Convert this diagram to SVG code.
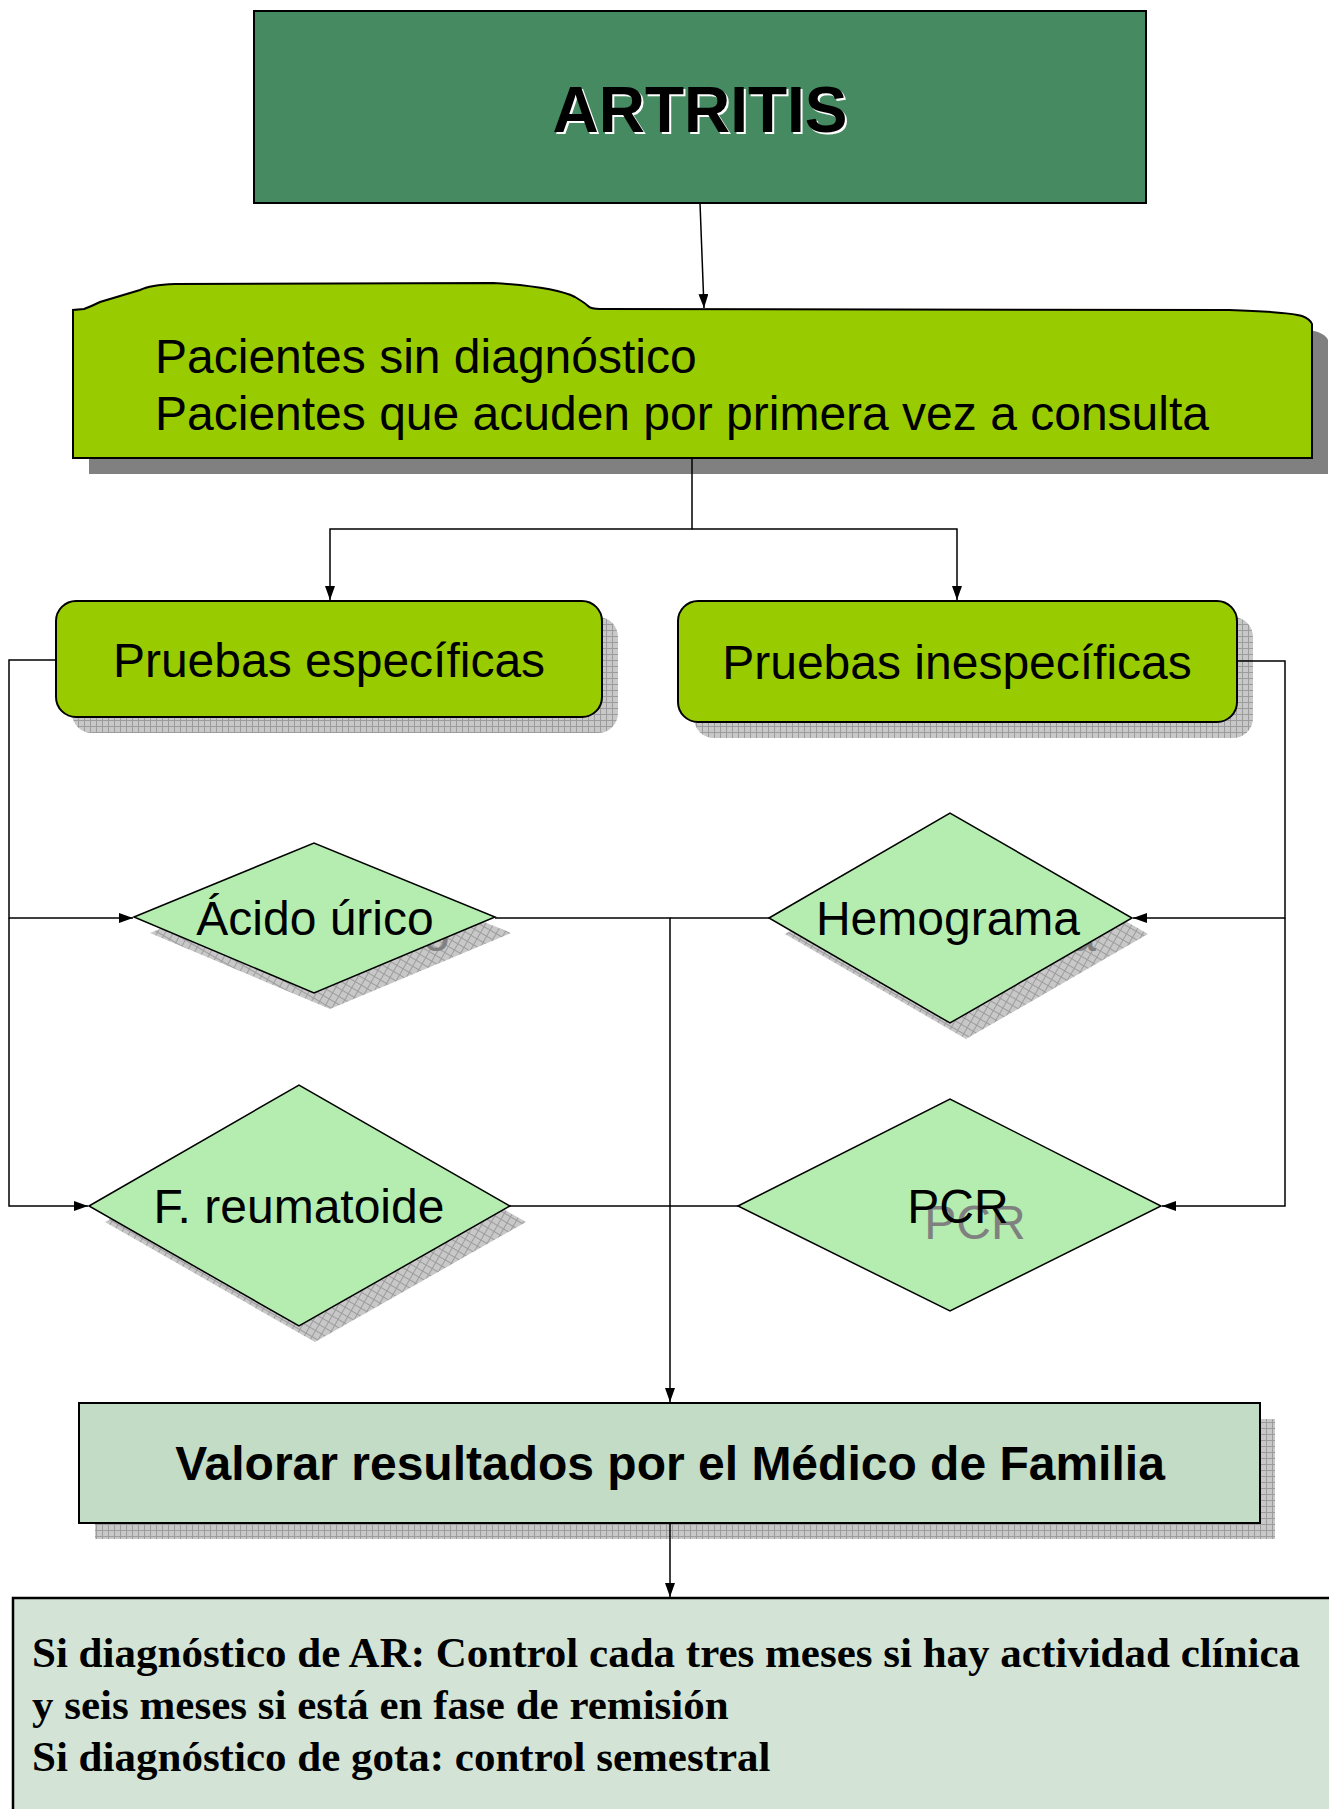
<svg xmlns="http://www.w3.org/2000/svg" width="1329" height="1809" viewBox="0 0 1329 1809">
<defs>
<style>
.sans{font-family:"Liberation Sans",Arial,sans-serif;font-size:48px;fill:#000}
.bold{font-weight:bold}
.serif{font-family:"Liberation Serif","Times New Roman",serif;font-size:43px;font-weight:bold;fill:#000}
.edge{fill:none;stroke:#000;stroke-width:1.5}
.box{stroke:#000;stroke-width:2}
.lime{fill:#99CC00}
.dia{fill:#B5EDB0;stroke:#000;stroke-width:1.5}
.ghost{fill:#808080}
</style>
<pattern id="hatch" width="6" height="6" patternUnits="userSpaceOnUse">
<rect width="6" height="6" fill="#c8c8c8"/>
<path d="M0,0.5H6M0.5,0V6" stroke="#9c9c9c" stroke-width="1"/>
</pattern>
<pattern id="hatchD" width="7" height="7" patternUnits="userSpaceOnUse" patternTransform="rotate(30)">
<rect width="7" height="7" fill="#c8c8c8"/>
<path d="M0,0.5H7M0.5,0V7" stroke="#9c9c9c" stroke-width="1"/>
</pattern>
<marker id="arr" markerUnits="userSpaceOnUse" markerWidth="14" markerHeight="10" refX="14" refY="5" orient="auto">
<path d="M0,0 L14,5 L0,10 Z" fill="#000"/>
</marker>
</defs>
<rect width="1329" height="1809" fill="#fff"/>

<g id="artritis">
<rect x="254" y="11" width="892" height="192" fill="#468A61" class="box"/>
<text x="702" y="134" text-anchor="middle" class="sans bold" style="font-size:64px;fill:#fff">ARTRITIS</text>
<text x="700" y="132" text-anchor="middle" class="sans bold" style="font-size:64px">ARTRITIS</text>
</g>

<g id="pacientes">
<path transform="translate(16,16)" fill="#808080" d="M73,458 L73,310 L84,309 Q92,306 100,302 L140,290 Q150,285 175,284 L493,283 Q555,287 575,297 Q585,303 588,306 Q591,309 600,309 L1229,310 Q1290,312 1302,316 Q1310,319 1312,324 L1312,458 Z"/>
<path class="box lime" d="M73,458 L73,310 L84,309 Q92,306 100,302 L140,290 Q150,285 175,284 L493,283 Q555,287 575,297 Q585,303 588,306 Q591,309 600,309 L1229,310 Q1290,312 1302,316 Q1310,319 1312,324 L1312,458 Z"/>
<text x="155" y="373" class="sans">Pacientes sin diagnóstico</text>
<text x="155" y="430" class="sans">Pacientes que acuden por primera vez a consulta</text>
</g>

<g id="pruebas-especificas">
<rect x="72" y="617" width="546" height="116" rx="20" fill="url(#hatch)"/>
<rect x="56" y="601" width="546" height="116" rx="20" class="box lime"/>
<text x="329" y="677" text-anchor="middle" class="sans">Pruebas específicas</text>
</g>

<g id="pruebas-inespecificas">
<rect x="694" y="617" width="559" height="121" rx="20" fill="url(#hatch)"/>
<rect x="678" y="601" width="559" height="121" rx="20" class="box lime"/>
<text x="957" y="679" text-anchor="middle" class="sans">Pruebas inespecíficas</text>
</g>

<g id="acido-urico">
<polygon points="150,933 330,859 511,933 330,1009" fill="url(#hatchD)"/>
<text x="331" y="951" text-anchor="middle" class="sans ghost">Ácido úrico</text>
<polygon points="134,917 314,843 495,917 314,993" class="dia"/>
<text x="315" y="935" text-anchor="middle" class="sans">Ácido úrico</text>
</g>

<g id="hemograma">
<polygon points="785,934 966,829 1148,934 966,1039" fill="url(#hatchD)"/>
<text x="964" y="951" text-anchor="middle" class="sans ghost">Hemograma</text>
<polygon points="769,918 950,813 1132,918 950,1023" class="dia"/>
<text x="948" y="935" text-anchor="middle" class="sans">Hemograma</text>
</g>

<g id="f-reumatoide">
<polygon points="105,1222 315,1101 526,1222 315,1342" fill="url(#hatchD)"/>
<polygon points="89,1206 299,1085 510,1206 299,1326" class="dia"/>
<text x="299" y="1223" text-anchor="middle" class="sans">F. reumatoide</text>
</g>

<g id="pcr">
<polygon points="738,1206 950,1099 1161,1206 950,1311" class="dia"/>
<text x="975" y="1239" text-anchor="middle" class="sans ghost">PCR</text>
<text x="958" y="1223" text-anchor="middle" class="sans">PCR</text>
</g>

<g id="valorar">
<rect x="95" y="1419" width="1180" height="120" fill="url(#hatch)"/>
<rect x="79" y="1403" width="1181" height="120" fill="#C3DCC5" class="box"/>
<text x="670" y="1480" text-anchor="middle" class="sans bold">Valorar resultados por el Médico de Familia</text>
</g>

<g id="seguimiento">
<rect x="13" y="1598" width="1330" height="230" fill="#D3E4D6" class="box" style="stroke-width:2.5"/>
<text x="32" y="1667" class="serif">Si diagnóstico de AR: Control cada tres meses si hay actividad clínica</text>
<text x="32" y="1719" class="serif">y seis meses si está en fase de remisión</text>
<text x="32" y="1771" class="serif">Si diagnóstico de gota: control semestral</text>
</g>

<g id="connectors">
<path class="edge" d="M700,203 L704,308" marker-end="url(#arr)"/>
<path class="edge" d="M692,458 V529 H330 V600" marker-end="url(#arr)"/>
<path class="edge" d="M692,529 H957 V600" marker-end="url(#arr)"/>
<path class="edge" d="M56,660 H9 V918 H133" marker-end="url(#arr)"/>
<path class="edge" d="M9,918 V1206 H88" marker-end="url(#arr)"/>
<path class="edge" d="M1237,661 H1285 V918 H1133" marker-end="url(#arr)"/>
<path class="edge" d="M1285,918 V1206 H1162" marker-end="url(#arr)"/>
<path class="edge" d="M495,918 H670 V1402" marker-end="url(#arr)"/>
<path class="edge" d="M769,918 H670"/>
<path class="edge" d="M510,1206 H670"/>
<path class="edge" d="M738,1206 H670"/>
<path class="edge" d="M670,1523 V1597" marker-end="url(#arr)"/>
</g>
</svg>
